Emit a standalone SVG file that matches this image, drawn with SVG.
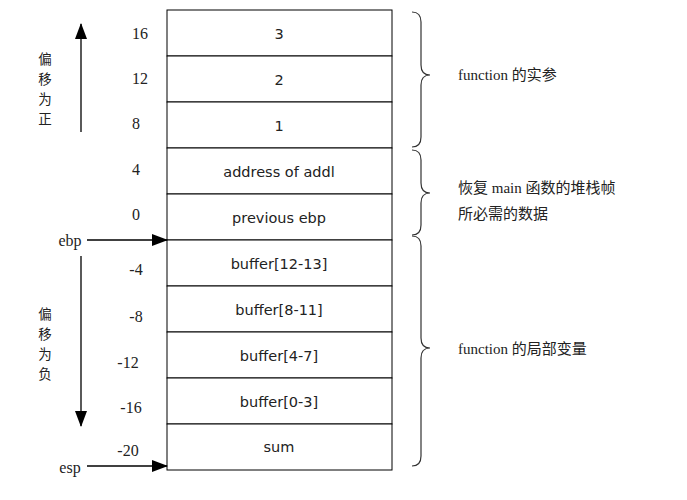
<svg xmlns="http://www.w3.org/2000/svg" width="687" height="500" viewBox="0 0 687 500">
<defs>
<marker id="ahb" markerWidth="16" markerHeight="12" refX="15" refY="6" orient="auto" markerUnits="userSpaceOnUse"><path d="M0,0 L16,6 L0,12 Z" fill="#000"/></marker>
</defs>
<style>
.cell{fill:#fff;stroke:#000;stroke-width:1}
.t{font-family:"DejaVu Sans",sans-serif;font-size:14.5px;fill:#222;text-anchor:middle}
.n{font-family:"Liberation Serif",serif;font-size:16px;fill:#222;text-anchor:middle}
.c{font-family:"Liberation Serif","Noto Sans CJK SC",serif;font-size:15px;fill:#222}
.v{font-family:"Noto Sans CJK SC",sans-serif;font-size:13.5px;fill:#222;text-anchor:middle}
.ln{stroke:#000;stroke-width:1.3;fill:none}
.br{stroke:#333;stroke-width:1.2;fill:none}
</style>
<rect width="687" height="500" fill="#fff"/>
<g id="stack">
<g id="r3"><rect class="cell" x="167" y="10" width="225" height="46"/><text class="t" x="279" y="39">3</text></g>
<g id="r2"><rect class="cell" x="167" y="56" width="225" height="46"/><text class="t" x="279" y="85">2</text></g>
<g id="r1"><rect class="cell" x="167" y="102" width="225" height="46"/><text class="t" x="279" y="131">1</text></g>
<g id="raddr"><rect class="cell" x="167" y="148" width="225" height="46"/><text class="t" x="279" y="177">address of addl</text></g>
<g id="rebp"><rect class="cell" x="167" y="194" width="225" height="46"/><text class="t" x="279" y="223">previous ebp</text></g>
<g id="rb1"><rect class="cell" x="167" y="240" width="225" height="46"/><text class="t" x="279" y="269">buffer[12-13]</text></g>
<g id="rb2"><rect class="cell" x="167" y="286" width="225" height="46"/><text class="t" x="279" y="315">buffer[8-11]</text></g>
<g id="rb3"><rect class="cell" x="167" y="332" width="225" height="46"/><text class="t" x="279" y="361">buffer[4-7]</text></g>
<g id="rb4"><rect class="cell" x="167" y="378" width="225" height="46"/><text class="t" x="279" y="407">buffer[0-3]</text></g>
<g id="rsum"><rect class="cell" x="167" y="424" width="225" height="46"/><text class="t" x="279" y="452">sum</text></g>
</g>
<g id="offsets">
<text class="n" x="140" y="39">16</text><text class="n" x="140" y="84">12</text><text class="n" x="136" y="129">8</text>
<text class="n" x="136" y="175">4</text><text class="n" x="136" y="220">0</text>
<text class="n" x="136" y="275">-4</text><text class="n" x="136" y="322">-8</text><text class="n" x="128" y="368">-12</text>
<text class="n" x="131" y="413">-16</text><text class="n" x="128" y="456">-20</text>
<text class="n" x="70" y="246">ebp</text><text class="n" x="70" y="473">esp</text>
</g>
<g id="side">
<text class="v" x="45" y="64">偏</text><text class="v" x="45" y="84">移</text><text class="v" x="45" y="104">为</text><text class="v" x="45" y="124">正</text>
<text class="v" x="45" y="319">偏</text><text class="v" x="45" y="339">移</text><text class="v" x="45" y="359">为</text><text class="v" x="45" y="379">负</text>
</g>
<g id="connectors">
<line class="ln" x1="81" y1="132" x2="81" y2="24" marker-end="url(#ahb)"/>
<line class="ln" x1="81" y1="256" x2="81" y2="426" marker-end="url(#ahb)"/>
<line class="ln" x1="87" y1="240" x2="167" y2="240" marker-end="url(#ahb)"/>
<line class="ln" x1="87" y1="466" x2="167" y2="466" marker-end="url(#ahb)"/>
</g>
<g id="braces">
<path class="br" d="M412,12 Q421,12 421,22 L421,65 Q421,75 430,75 Q421,75 421,85 L421,137 Q421,147 412,147"/>
<path class="br" d="M412,150 Q421,150 421,160 L421,183 Q421,193 430,193 Q421,193 421,203 L421,225 Q421,235 412,235"/>
<path class="br" d="M412,236 Q421,236 421,246 L421,338 Q421,348 430,348 Q421,348 421,358 L421,456 Q421,466 412,466"/>
</g>
<g id="labels">
<text class="c" x="458" y="80">function 的实参</text>
<text class="c" x="458" y="193">恢复 main 函数的堆栈帧</text>
<text class="c" x="458" y="219">所必需的数据</text>
<text class="c" x="458" y="354">function 的局部变量</text>
</g>
</svg>
